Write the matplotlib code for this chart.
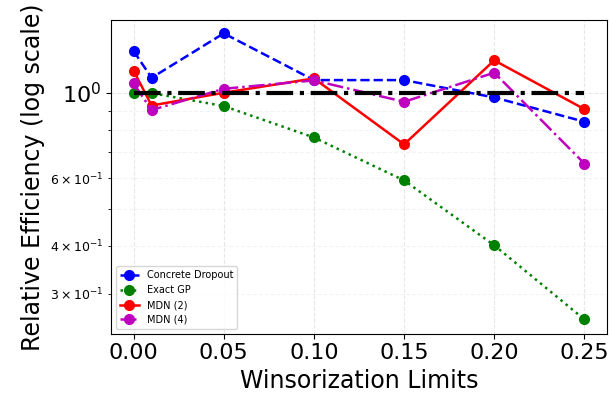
import matplotlib
matplotlib.use("Agg")
import matplotlib.pyplot as plt

limits = [0.0, 0.01, 0.05, 0.10, 0.15, 0.20, 0.25]
concrete_dropout = [1.287, 1.096, 1.431, 1.081, 1.081, 0.974, 0.842]
exact_gp = [1.0, 1.0, 0.925, 0.766, 0.592, 0.401, 0.257]
mdn_2 = [1.144, 0.928, 1.002, 1.092, 0.735, 1.217, 0.908]
mdn_4 = [1.06, 0.903, 1.026, 1.079, 0.949, 1.13, 0.655]

fig, ax = plt.subplots(figsize=(6.1, 4.01), dpi=100)

ax.plot(limits, concrete_dropout, 'b--o', markersize=7, linewidth=1.8, label='Concrete Dropout')
ax.plot(limits, exact_gp, 'g:o', markersize=7, linewidth=1.8, label='Exact GP')
ax.plot(limits, mdn_2, 'r-o', markersize=7, linewidth=1.8, label='MDN (2)')
ax.plot(limits, mdn_4, 'm-.o', markersize=7, linewidth=1.8, label='MDN (4)')
ax.plot([limits[0], limits[-1]], [1, 1], 'k-.', linewidth=3)

ax.set_yscale('log')
ax.set_ylim(0.236, 1.55)
ax.set_xlim(-0.0125, 0.2625)
ax.grid(True, linestyle='--', alpha=0.3)
ax.grid(True, which='minor', axis='y', linestyle='--', alpha=0.15)

ax.set_xlabel('Winsorization Limits', fontsize=17)
ax.set_ylabel('Relative Efficiency (log scale)', fontsize=17)
ax.tick_params(axis='both', which='major', labelsize=16)
ax.tick_params(axis='y', which='minor', labelsize=9)
ax.legend(loc='lower left', fontsize=7)

fig.subplots_adjust(left=0.182, right=0.995, top=0.95, bottom=0.168)
fig.savefig('out.png')
